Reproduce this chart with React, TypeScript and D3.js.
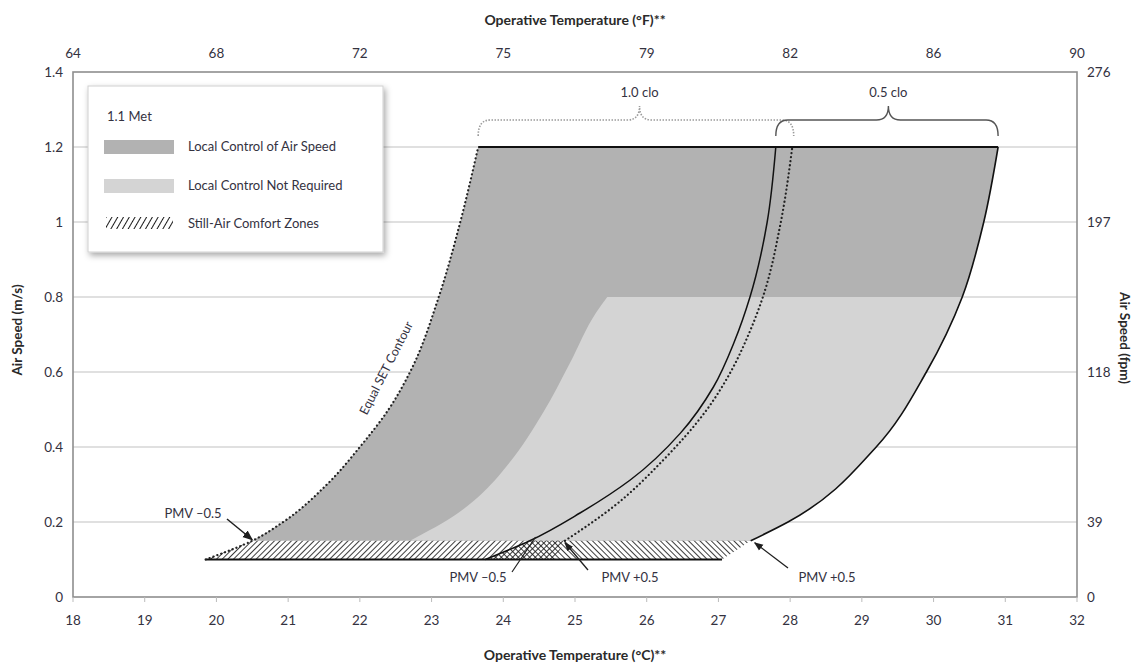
import React from 'react';
import * as d3 from 'd3';

// ---------- data ----------
const cTicks = [18, 19, 20, 21, 22, 23, 24, 25, 26, 27, 28, 29, 30, 31, 32];
const fTickPositions = [18, 20, 22, 24, 26, 28, 30, 32];
const fTickLabels = ['64', '68', '72', '75', '79', '82', '86', '90'];
const yTicks = [0, 0.2, 0.4, 0.6, 0.8, 1, 1.2, 1.4];
const yTickLabels = ['0', '0.2', '0.4', '0.6', '0.8', '1', '1.2', '1.4'];
const gridValues = [0.2, 0.4, 0.6, 0.8, 1.0, 1.2];
const fpmPositions = [1.4, 1.0, 0.6, 0.2, 0];
const fpmLabels = ['276', '197', '118', '39', '0'];

// Equal SET contour (1.0 clo left boundary) [°C, m/s]
const setContour: [number, number][] = [
  [19.85, 0.1], [20.5, 0.15], [20.93, 0.2], [21.54, 0.3], [22.0, 0.4],
  [22.4, 0.5], [22.7, 0.6], [23.1, 0.8], [23.4, 1.0], [23.65, 1.2],
];
// 0.5 clo left boundary (solid)
const leftSolid: [number, number][] = [
  [23.75, 0.1], [24.37, 0.15], [25.07, 0.224], [25.77, 0.312], [26.47, 0.437],
  [26.93, 0.56], [27.22, 0.68], [27.44, 0.8], [27.68, 1.0], [27.8, 1.2],
];
// 1.0 clo right boundary (dotted)
const rightDotted: [number, number][] = [
  [24.86, 0.15], [25.53, 0.24], [26.23, 0.365], [26.84, 0.5], [27.17, 0.6],
  [27.42, 0.7], [27.62, 0.8], [27.87, 1.0], [28.03, 1.2],
];
// 0.5 clo right boundary, PMV +0.5 (solid)
const rightSolid: [number, number][] = [
  [27.45, 0.15], [27.97, 0.2], [29.2, 0.4], [29.9, 0.6],
  [30.4, 0.8], [30.7, 1.0], [30.9, 1.2],
];
// boundary between "local control" and "not required"
const lightBoundary: [number, number][] = [
  [22.7, 0.15], [23.37, 0.224], [23.65, 0.267], [24.08, 0.357], [24.55, 0.49],
  [24.93, 0.624], [25.3, 0.76], [25.45, 0.8],
];
const lightTop = 0.8;
const topSpeed = 1.2;
// still-air zones
const stillAir10: [number, number][] = [[19.85, 0.1], [20.5, 0.15], [24.86, 0.15], [24.72, 0.1]];
const stillAir05: [number, number][] = [[23.75, 0.1], [24.37, 0.15], [27.45, 0.15], [27.05, 0.1]];
const stillAirBase: [number, number] = [19.85, 27.05];
const stillAirY = 0.1;

// braces
const braceLabels = ['1.0 clo', '0.5 clo'];
const braceStart = [23.65, 27.8];
const braceEnd = [28.05, 30.9];
const braceTip = [25.9, 29.37];

const legendItems = ['Local Control of Air Speed', 'Local Control Not Required', 'Still-Air Comfort Zones'];

const pmvLabels = ['PMV \u20130.5', 'PMV \u20130.5', 'PMV +0.5', 'PMV +0.5'];

export default function App() {
  const W = 1134, H = 666;
  const x = d3.scaleLinear().domain([18, 32]).range([73, 1077]);
  const y = d3.scaleLinear().domain([0, 1.4]).range([597, 72]);

  const line = d3.line<[number, number]>()
    .x(d => x(d[0])).y(d => y(d[1]))
    .curve(d3.curveMonotoneY);
  const poly = d3.line<[number, number]>().x(d => x(d[0])).y(d => y(d[1]));

  const join = (...segs: string[]) =>
    segs.map((s, i) => (i === 0 ? s : s.replace(/^M/, 'L'))).join('') + 'Z';

  const darkPath = join(
    line(setContour.slice(1)) as string,
    poly([[setContour[setContour.length - 1][0], topSpeed], [rightSolid[rightSolid.length - 1][0], topSpeed]]) as string,
    line([...rightSolid].reverse()) as string,
  );
  const rsBelow = rightSolid.filter(p => p[1] <= lightTop);
  const lightPath = join(
    line(lightBoundary) as string,
    poly([[lightBoundary[lightBoundary.length - 1][0], lightTop], [rsBelow[rsBelow.length - 1][0], lightTop]]) as string,
    line([...rsBelow].reverse()) as string,
  );

  const font = 'Lato, "Open Sans", sans-serif';
  const textColor = '#34323f';
  const dark = '#b2b2b2';
  const light = '#d4d4d4';

  const bracePath = (x0: number, x1: number, xc: number) => {
    const yEnd = 136, yMid = 120, yTip = 106, r = 12;
    return `M${x0},${yEnd} Q${x0},${yMid} ${x0 + r},${yMid} L${xc - r},${yMid} Q${xc},${yMid} ${xc},${yTip} Q${xc},${yMid} ${xc + r},${yMid} L${x1 - r},${yMid} Q${x1},${yMid} ${x1},${yEnd}`;
  };

  const setTop = setContour[setContour.length - 1];

  return (
    <svg width={W} height={H} style={{ position: 'absolute', left: 0, top: 0, background: '#fff' }} fontFamily={font}>
      <defs>
        <pattern id="hatchA" width={4} height={4} patternUnits="userSpaceOnUse" patternTransform="rotate(45)">
          <line x1={0} y1={0} x2={0} y2={4} stroke="#1a1a1a" strokeWidth={1.7} />
        </pattern>
        <pattern id="hatchB" width={4} height={4} patternUnits="userSpaceOnUse" patternTransform="rotate(-45)">
          <line x1={0} y1={0} x2={0} y2={4} stroke="#1a1a1a" strokeWidth={1.7} />
        </pattern>
        <pattern id="hatchL" width={5} height={5} patternUnits="userSpaceOnUse" patternTransform="rotate(30)">
          <line x1={0} y1={0} x2={0} y2={5} stroke="#1a1a1a" strokeWidth={2} />
        </pattern>
        <marker id="arrow" viewBox="0 0 10 10" refX={9} refY={5} markerWidth={7} markerHeight={7} orient="auto-start-reverse">
          <path d="M0,1 L10,5 L0,9 Z" fill="#1e1e1e" />
        </marker>
        <filter id="shadow" x="-10%" y="-10%" width="125%" height="130%">
          <feDropShadow dx={2} dy={3} stdDeviation={3} floodColor="#000" floodOpacity={0.35} />
        </filter>
      </defs>

      {/* grid */}
      {gridValues.map(v => (
        <line key={v} x1={x(18)} x2={x(32)} y1={y(v)} y2={y(v)} stroke="#d6d6d6" strokeWidth={1.3} />
      ))}
      {/* frame */}
      <rect x={x(18)} y={y(1.4)} width={x(32) - x(18)} height={y(0) - y(1.4)} fill="none" stroke="#8e8e8e" strokeWidth={1.6} />
      {cTicks.map(t => (
        <line key={t} x1={x(t)} x2={x(t)} y1={y(0)} y2={y(0) + 5} stroke="#bbb" strokeWidth={1} />
      ))}

      {/* fills */}
      <path d={darkPath} fill={dark} />
      <path d={lightPath} fill={light} />

      {/* hatches */}
      <path d={(poly(stillAir10) as string) + 'Z'} fill="url(#hatchA)" />
      <path d={(poly(stillAir05) as string) + 'Z'} fill="url(#hatchB)" />
      <line x1={x(stillAirBase[0])} x2={x(stillAirBase[1])} y1={y(stillAirY)} y2={y(stillAirY)} stroke="#111" strokeWidth={2.2} />

      {/* boundary lines */}
      <path d={line(setContour) as string} fill="none" stroke="#222" strokeWidth={2.2} strokeDasharray="0.1,4" strokeLinecap="round" />
      <path d={line(rightDotted) as string} fill="none" stroke="#222" strokeWidth={2.2} strokeDasharray="0.1,4" strokeLinecap="round" />
      <path d={line(leftSolid) as string} fill="none" stroke="#111" strokeWidth={1.5} />
      <path d={line(rightSolid) as string} fill="none" stroke="#111" strokeWidth={1.6} />
      <line x1={x(setTop[0])} x2={x(rightSolid[rightSolid.length - 1][0])} y1={y(topSpeed)} y2={y(topSpeed)} stroke="#111" strokeWidth={1.8} />

      {/* braces */}
      {braceLabels.map((lab, i) => (
        <g key={lab}>
          <path d={bracePath(x(braceStart[i]), x(braceEnd[i]), x(braceTip[i]))} fill="none"
            stroke={i === 0 ? '#9a9a9a' : '#555'} strokeWidth={i === 0 ? 1.6 : 1.4}
            strokeDasharray={i === 0 ? '1.5,1.5' : undefined} />
          <text x={x(braceTip[i])} y={97} textAnchor="middle" fontSize={13} fill={textColor}>{lab}</text>
        </g>
      ))}

      {/* annotations */}
      <text x={193} y={518} textAnchor="middle" fontSize={13} fill={textColor}>{pmvLabels[0]}</text>
      <line x1={227} y1={519} x2={x(20.5)} y2={y(0.15) - 1} stroke="#1e1e1e" strokeWidth={1.5} markerEnd="url(#arrow)" />
      <text x={478} y={582} textAnchor="middle" fontSize={13} fill={textColor}>{pmvLabels[1]}</text>
      <line x1={512} y1={572} x2={x(24.45)} y2={y(0.16)} stroke="#1e1e1e" strokeWidth={1.2} />
      <text x={630} y={582} textAnchor="middle" fontSize={13} fill={textColor}>{pmvLabels[2]}</text>
      <line x1={588} y1={570} x2={x(24.86)} y2={y(0.15) + 2} stroke="#1e1e1e" strokeWidth={1.3} markerEnd="url(#arrow)" />
      <text x={827} y={582} textAnchor="middle" fontSize={13} fill={textColor}>{pmvLabels[3]}</text>
      <line x1={788} y1={568} x2={x(27.45) + 4} y2={y(0.15) + 2} stroke="#1e1e1e" strokeWidth={1.3} markerEnd="url(#arrow)" />

      <text transform={`translate(390,370) rotate(-63)`} textAnchor="middle" fontSize={12.5} fill={textColor}>Equal SET Contour</text>

      {/* legend */}
      <rect x={88} y={86} width={295} height={166} fill="#fff" stroke="#d0d0d0" strokeWidth={1} filter="url(#shadow)" />
      <text x={107} y={121} fontSize={13} fill={textColor}>1.1 Met</text>
      <rect x={104} y={140} width={70} height={14} fill={dark} />
      <rect x={104} y={179} width={70} height={14} fill={light} />
      <rect x={106} y={217} width={67} height={12} fill="url(#hatchL)" />
      {legendItems.map((t, i) => (
        <text key={t} x={188} y={151 + i * 38.5} fontSize={13} fill={textColor}>{t}</text>
      ))}

      {/* axes labels */}
      {cTicks.map(t => (
        <text key={t} x={x(t)} y={625} textAnchor="middle" fontSize={13.5} fill={textColor}>{t}</text>
      ))}
      {fTickPositions.map((t, i) => (
        <text key={t} x={x(t)} y={58} textAnchor="middle" fontSize={13.5} fill={textColor}>{fTickLabels[i]}</text>
      ))}
      {yTicks.map((t, i) => (
        <text key={t} x={63} y={y(t) + 5} textAnchor="end" fontSize={13.5} fill={textColor}>{yTickLabels[i]}</text>
      ))}
      {fpmPositions.map((t, i) => (
        <text key={t} x={1087} y={y(t) + 5} textAnchor="start" fontSize={13.5} fill={textColor}>{fpmLabels[i]}</text>
      ))}

      <text x={575} y={25} textAnchor="middle" fontSize={14} fontWeight="bold" fill="#2a2a2a">Operative Temperature (°F)**</text>
      <text x={575} y={660} textAnchor="middle" fontSize={14} fontWeight="bold" fill="#2a2a2a">Operative Temperature (°C)**</text>
      <text transform="translate(22,330) rotate(-90)" textAnchor="middle" fontSize={13.5} fontWeight="bold" fill="#2a2a2a">Air Speed (m/s)</text>
      <text transform="translate(1120,338) rotate(90)" textAnchor="middle" fontSize={13.5} fontWeight="bold" fill="#2a2a2a">Air Speed (fpm)</text>
    </svg>
  );
}
